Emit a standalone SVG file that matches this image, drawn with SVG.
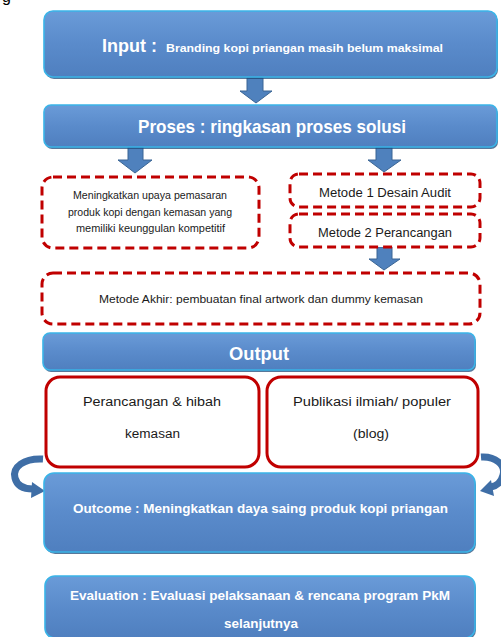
<svg xmlns="http://www.w3.org/2000/svg" width="501" height="637" viewBox="0 0 501 637">
<style>
  .box{fill:url(#bg);stroke:#3ab4e8;stroke-width:1.6}
  .sh{fill:#1f4a78;opacity:0.75}
  .wt{fill:#ffffff;font-family:"Liberation Sans",Arial,sans-serif;font-weight:bold;text-anchor:middle}
  .dt{fill:#1a1a1a;font-family:"Liberation Sans",Arial,sans-serif;text-anchor:middle}
  .dash{fill:#ffffff;stroke:#c00000;stroke-width:3;stroke-dasharray:9 5}
  .solid{fill:#ffffff;stroke:#c00000;stroke-width:3}
  .arr{fill:#4f81bd;stroke:#3a6594;stroke-width:1}
  .curve{fill:none;stroke:#3f6ea6;stroke-width:7}
  .chead{fill:#3f6ea6}
</style>
<defs>
  <linearGradient id="bg" x1="0" y1="0" x2="0" y2="1">
    <stop offset="0" stop-color="#6a9bd8"/>
    <stop offset="0.5" stop-color="#5a8bcb"/>
    <stop offset="1" stop-color="#4f7fbf"/>
  </linearGradient>
</defs>
<text x="2" y="1.5" font-size="16" font-family="Liberation Sans,Arial,sans-serif" fill="#000">g</text>

<g id="connectors">
  <polygon class="arr" points="247,78 263,78 263,91 272,91 256,103 240,91 247,91"/>
  <polygon class="arr" points="128,147 143,147 143,160 152,160 135,173 118,160 128,160"/>
  <polygon class="arr" points="376,147 392,147 392,160 401,160 384,172 368,160 376,160"/>
  <polygon class="arr" points="377,247 392,247 392,259 400,259 384,270 369,259 377,259"/>
  <path class="curve" d="M43,459 C24,458 12,467 15,478 C17,486 24,489 33,489"/>
  <polygon class="chead" points="32,482 45,491 31,498"/>
  <path class="curve" d="M481,457 C495,456 506,465 503,475 C501,483 496,486 491,487"/>
  <polygon class="chead" points="491,480 480,491 494,496"/>
</g>

<g id="input">
  <rect class="sh" x="45" y="13" width="453" height="66" rx="9"/>
  <rect class="box" x="44" y="11" width="453" height="66" rx="9"/>
  <text class="wt" x="129.5" y="52" font-size="18" textLength="55" lengthAdjust="spacingAndGlyphs">Input :</text>
  <text class="wt" x="304.5" y="52" font-size="11" textLength="277" lengthAdjust="spacingAndGlyphs">Branding kopi priangan masih belum maksimal</text>
</g>

<g id="proses">
  <rect class="sh" x="45" y="107" width="453" height="42" rx="7"/>
  <rect class="box" x="44" y="105" width="453" height="42" rx="7"/>
  <text class="wt" x="272" y="133" font-size="18.5" textLength="268" lengthAdjust="spacingAndGlyphs">Proses : ringkasan proses solusi</text>
</g>

<g id="tujuan">
  <rect class="dash" x="42" y="177" width="217" height="71" rx="11"/>
  <text class="dt" x="150" y="199" font-size="10.5" textLength="154" lengthAdjust="spacingAndGlyphs">Meningkatkan upaya pemasaran</text>
  <text class="dt" x="150" y="216" font-size="10.5" textLength="164" lengthAdjust="spacingAndGlyphs">produk kopi dengan kemasan yang</text>
  <text class="dt" x="150.5" y="232" font-size="10.5" textLength="149" lengthAdjust="spacingAndGlyphs">memiliki keunggulan kompetitif</text>
</g>

<g id="metode1">
  <rect class="dash" x="290" y="174" width="190" height="33" rx="9"/>
  <text class="dt" x="385" y="197" font-size="12" textLength="132" lengthAdjust="spacingAndGlyphs">Metode 1 Desain Audit</text>
</g>

<g id="metode2">
  <rect class="dash" x="290" y="214" width="190" height="33" rx="9"/>
  <text class="dt" x="385" y="237" font-size="12" textLength="134" lengthAdjust="spacingAndGlyphs">Metode 2 Perancangan</text>
</g>

<g id="metodeakhir">
  <rect class="dash" x="42" y="273" width="438" height="51" rx="11"/>
  <text class="dt" x="261" y="303" font-size="11.5" textLength="324" lengthAdjust="spacingAndGlyphs">Metode Akhir: pembuatan final artwork dan dummy kemasan</text>
</g>

<g id="output">
  <rect class="sh" x="44" y="335" width="432" height="37" rx="7"/>
  <rect class="box" x="43" y="333" width="432" height="37" rx="7"/>
  <text class="wt" x="259" y="360" font-size="18" textLength="60" lengthAdjust="spacingAndGlyphs">Output</text>
</g>

<g id="out1">
  <rect class="solid" x="46" y="377" width="213" height="90" rx="14"/>
  <text class="dt" x="152" y="406" font-size="12" textLength="138" lengthAdjust="spacingAndGlyphs">Perancangan &amp;  hibah</text>
  <text class="dt" x="152.5" y="438" font-size="12" textLength="55" lengthAdjust="spacingAndGlyphs">kemasan</text>
</g>

<g id="out2">
  <rect class="solid" x="267" y="377" width="211" height="90" rx="14"/>
  <text class="dt" x="372" y="406" font-size="12" textLength="158" lengthAdjust="spacingAndGlyphs">Publikasi ilmiah/ populer</text>
  <text class="dt" x="371" y="438" font-size="12" textLength="36" lengthAdjust="spacingAndGlyphs">(blog)</text>
</g>

<g id="outcome">
  <rect class="sh" x="45" y="475" width="431" height="79" rx="10"/>
  <rect class="box" x="44" y="473" width="431" height="79" rx="10"/>
  <text class="wt" x="260.5" y="513" font-size="12.5" textLength="375" lengthAdjust="spacingAndGlyphs">Outcome : Meningkatkan daya saing produk kopi priangan</text>
</g>

<g id="evaluation">
  <rect class="sh" x="46" y="578" width="430" height="62" rx="10"/>
  <rect class="box" x="45" y="576" width="430" height="62" rx="10"/>
  <text class="wt" x="260" y="600" font-size="12.5" textLength="380" lengthAdjust="spacingAndGlyphs">Evaluation : Evaluasi pelaksanaan  &amp; rencana program PkM</text>
  <text class="wt" x="261" y="628" font-size="12.5" textLength="74" lengthAdjust="spacingAndGlyphs">selanjutnya</text>
</g>
</svg>
